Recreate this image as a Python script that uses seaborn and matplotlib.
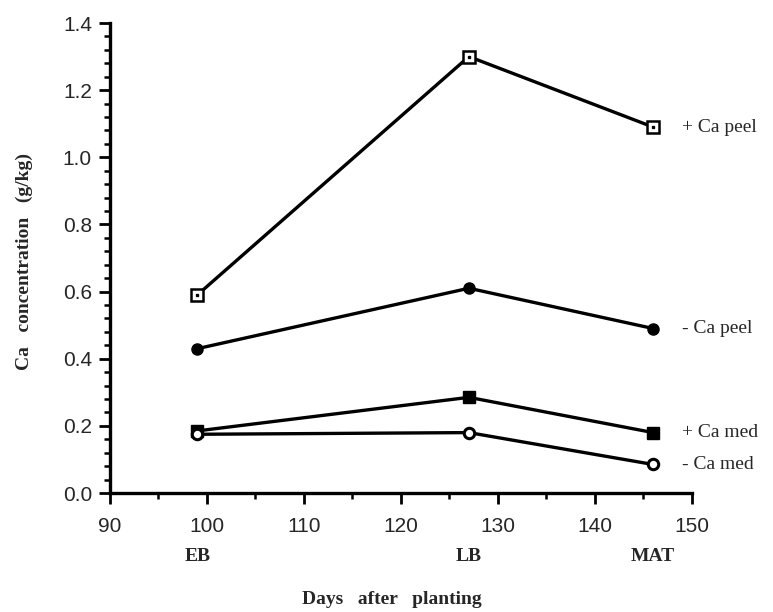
import matplotlib
matplotlib.use("Agg")
import matplotlib.pyplot as plt
import seaborn as sns
import pandas as pd
import numpy as np

# days after planting and growth stage names
days = [99, 127, 146]
stages = ["EB", "LB", "MAT"]

# Ca concentration (g/kg)
plus_ca_peel = [0.59, 1.30, 1.09]
minus_ca_peel = [0.43, 0.61, 0.49]
plus_ca_med = [0.185, 0.285, 0.18]
minus_ca_med = [0.175, 0.18, 0.085]

series_names = ["+ Ca peel", "- Ca peel", "+ Ca med", "- Ca med"]
series_values = [plus_ca_peel, minus_ca_peel, plus_ca_med, minus_ca_med]

# marker style per series: (marker, face colour, size, edge width)
marker_styles = {
    "+ Ca peel": ("s", "white", 8.5, 1.8),
    "- Ca peel": ("o", "black", 8.0, 1.0),
    "+ Ca med": ("s", "black", 8.0, 1.0),
    "- Ca med": ("o", "white", 7.5, 2.2),
}

df = pd.DataFrame({
    "days": np.tile(days, len(series_names)),
    "ca": np.concatenate(series_values),
    "series": np.repeat(series_names, len(days)),
})

sns.set_style("ticks")
plt.rcParams["font.family"] = ["Liberation Sans", "DejaVu Sans"]
serif = ["Liberation Serif", "DejaVu Serif"]

fig = plt.figure(figsize=(7.73, 6.12), dpi=100)
ax = fig.add_axes([0.1423, 0.1944, 0.8952 - 0.1423, 0.9624 - 0.1944])

for name in series_names:
    sub = df[df["series"] == name]
    mk, face, size, ew = marker_styles[name]
    sns.lineplot(data=sub, x="days", y="ca", ax=ax, color="black", linewidth=2.4,
                 marker=mk, markersize=size, markerfacecolor=face,
                 markeredgecolor="black", markeredgewidth=ew, legend=False)
    # dot inside the open squares
    if name == "+ Ca peel":
        ax.plot(sub["days"], sub["ca"], linestyle="none", marker="s",
                markersize=1.5, color="black")
    # series label to the right of the last point
    ax.annotate(name, xy=(sub["days"].iloc[-1], sub["ca"].iloc[-1]),
                xytext=(21, 0), textcoords="offset points", va="center", ha="left",
                fontsize=14, family=serif, annotation_clip=False)

ax.set_xlim(90, 150)
ax.set_ylim(0, 1.4)
ax.set_xticks(np.arange(90, 151, 10))
ax.set_xticks(np.arange(95, 150, 10), minor=True)
ax.set_yticks(np.arange(0, 1.41, 0.2))
ax.set_yticks(np.arange(0, 1.41, 0.04), minor=True)
ax.yaxis.set_major_formatter(matplotlib.ticker.FormatStrFormatter("%.1f"))

ax.tick_params(which="major", length=8, width=2.0, labelsize=15, color="black")
ax.tick_params(which="minor", length=4, width=1.8, color="black")
ax.tick_params(axis="x", which="major", pad=9)
ax.tick_params(axis="y", which="major", pad=5)

for side in ["top", "right"]:
    ax.spines[side].set_visible(False)
for side in ["left", "bottom"]:
    ax.spines[side].set_linewidth(2.4)
    ax.spines[side].set_color("black")

ax.set_xlabel("")
ax.set_ylabel("")

# growth stage names under the x tick labels
for d, s in zip(days, stages):
    ax.text(d, -0.136, s, transform=ax.get_xaxis_transform(), ha="center", va="center",
            fontsize=14, fontweight="bold", family=serif)

fig.text(392 / 773, 1 - 600 / 612, "Days   after   planting", ha="center", va="center",
         fontsize=14, fontweight="bold", family=serif)
fig.text(24 / 773, 1 - 262 / 612, "Ca   concentration   (g/kg)", ha="center", va="center",
         rotation=90, fontsize=14, fontweight="bold", family=serif)

fig.savefig("out.png", dpi=100)
